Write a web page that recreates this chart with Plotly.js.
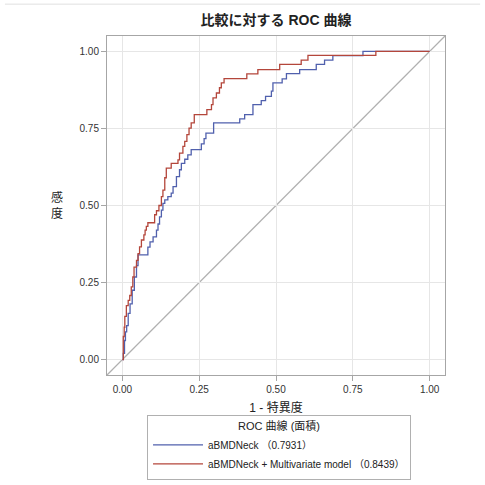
<!DOCTYPE html>
<html>
<head>
<meta charset="utf-8">
<script src="https://cdn.plot.ly/plotly-3.0.1.min.js"></script>
<style>html,body{margin:0;padding:0;background:#fff;}#chart{width:485px;height:485px;}</style>
</head>
<body>
<div id="chart"></div>
<script>
// ROC step points: at each FPR the curve rises to the given TPR
const neckFPR = [0.000,0.003,0.007,0.010,0.014,0.019,0.025,0.032,0.039,0.046,0.051,0.083,0.090,0.100,0.111,0.116,0.121,0.127,0.132,0.138,0.148,0.159,0.165,0.176,0.186,0.192,0.203,0.213,0.224,0.257,0.266,0.272,0.297,0.382,0.398,0.425,0.452,0.466,0.485,0.490,0.520,0.534,0.577,0.631,0.658,0.685,0.783,1.000];
const neckTPR = [0.000,0.020,0.062,0.090,0.110,0.150,0.181,0.225,0.268,0.305,0.340,0.365,0.382,0.398,0.420,0.440,0.463,0.485,0.507,0.518,0.529,0.540,0.561,0.594,0.616,0.637,0.650,0.664,0.681,0.700,0.717,0.735,0.768,0.781,0.795,0.827,0.840,0.854,0.871,0.898,0.911,0.928,0.941,0.958,0.972,0.986,1.000,1.000];
const multiFPR = [0.000,0.003,0.006,0.008,0.013,0.019,0.024,0.029,0.034,0.038,0.046,0.051,0.056,0.062,0.070,0.074,0.078,0.083,0.105,0.111,0.119,0.127,0.132,0.138,0.143,0.159,0.181,0.186,0.197,0.203,0.210,0.217,0.224,0.234,0.275,0.290,0.295,0.306,0.316,0.322,0.331,0.405,0.441,0.512,0.582,0.604,0.825,1.000];
const multiTPR = [0.000,0.075,0.105,0.140,0.175,0.192,0.208,0.236,0.268,0.300,0.322,0.344,0.366,0.388,0.405,0.420,0.432,0.444,0.470,0.483,0.500,0.529,0.550,0.590,0.621,0.637,0.648,0.670,0.692,0.708,0.730,0.751,0.768,0.795,0.811,0.827,0.849,0.865,0.882,0.898,0.912,0.927,0.941,0.958,0.972,0.987,1.000,1.000];
const seriesNames = ["aBMDNeck （0.7931）", "aBMDNeck + Multivariate model （0.8439）"];
const tickVals = [0, 0.25, 0.5, 0.75, 1];
const tickText = ["0.00", "0.25", "0.50", "0.75", "1.00"];

const FONT = "'Liberation Sans', Arial, 'Noto Sans CJK JP', sans-serif";

const traces = [
  {x: neckFPR, y: neckTPR, name: seriesNames[0], type: "scatter", mode: "lines",
   line: {shape: "hv", color: "#5060ad", width: 1.3}},
  {x: multiFPR, y: multiTPR, name: seriesNames[1], type: "scatter", mode: "lines",
   line: {shape: "hv", color: "#b4463b", width: 1.3}}
];

const axisCommon = {
  range: [-0.05, 1.05], tickvals: tickVals, ticktext: tickText,
  showline: true, mirror: true, linecolor: "#a6a6a6", linewidth: 1,
  ticks: "outside", ticklen: 5, tickcolor: "#a6a6a6",
  showgrid: true, gridcolor: "#e6e6e6", gridwidth: 1, zeroline: false,
  tickfont: {family: FONT, size: 10, color: "#333"}, fixedrange: true
};

const layout = {
  width: 485, height: 485,
  margin: {l: 107, r: 40, t: 36, b: 110},
  paper_bgcolor: "#fff", plot_bgcolor: "#fff",
  title: {text: "<b>比較に対する ROC 曲線</b>", font: {family: FONT, size: 14, color: "#222"},
          x: 0.5, xref: "paper", y: 1 - 20/485, yref: "container", yanchor: "middle"},
  xaxis: Object.assign({}, axisCommon, {
    title: {text: "1 - 特異度", font: {family: FONT, size: 12, color: "#222"}, standoff: 9}
  }),
  yaxis: Object.assign({}, axisCommon),
  showlegend: true,
  legend: {
    x: 0.509, xanchor: "center", xref: "paper",
    y: 1 - 415/485, yanchor: "top", yref: "container",
    bordercolor: "#b0b0b0", borderwidth: 1, bgcolor: "#fff",
    font: {family: FONT, size: 10, color: "#222"},
    title: {text: "ROC 曲線 (面積)", side: "top center", font: {family: FONT, size: 11, color: "#222"}},
    itemwidth: 50, tracegroupgap: 0
  },
  annotations: [
    {text: "感<br>度", xref: "paper", yref: "paper", x: -0.148, y: 0.5,
     xanchor: "center", yanchor: "middle", showarrow: false,
     font: {family: FONT, size: 12, color: "#222"}}
  ],
  shapes: [
    {type: "line", xref: "paper", yref: "paper", x0: 0, y0: 0, x1: 1, y1: 1,
     line: {color: "#b0b0b0", width: 1.2}, layer: "below"},
    {type: "line", xref: "paper", yref: "paper", x0: -0.302, y0: 1.094, x1: 1.104, y1: 1.094,
     line: {color: "#e0e0e0", width: 1}}
  ]
};

Plotly.newPlot("chart", traces, layout, {displayModeBar: false, staticPlot: true});
</script>
</body>
</html>
